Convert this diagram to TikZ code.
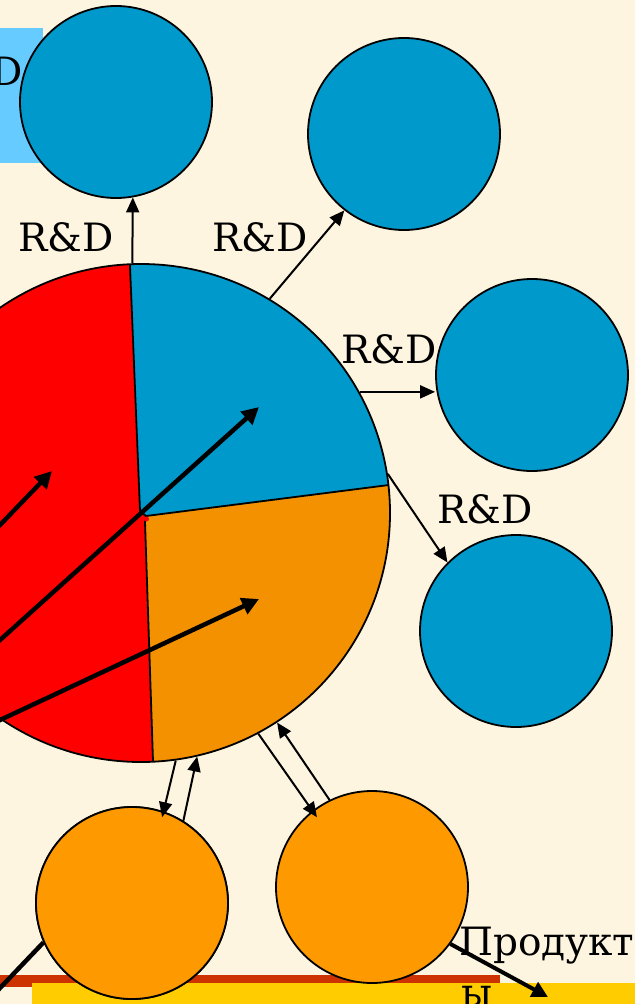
\documentclass[tikz,border=0pt]{standalone}
\usepackage{fontspec}
\setmainfont{DejaVu Serif}
\usetikzlibrary{arrows.meta}
\definecolor{bg}{RGB}{253,245,224}
\definecolor{boxcyan}{RGB}{102,204,255}
\definecolor{ballblue}{RGB}{0,153,204}
\definecolor{ballorange}{RGB}{255,153,0}
\definecolor{pieorange}{RGB}{243,145,0}
\definecolor{piered}{RGB}{255,0,0}
\definecolor{stripered}{RGB}{204,51,0}
\definecolor{stripeyellow}{RGB}{255,204,0}
\begin{document}
\begin{tikzpicture}[x=1pt,y=-1pt,
  ball/.style={circle,draw=black,line width=1.8pt,inner sep=0pt,minimum size=192pt},
  blueball/.style={ball,fill=ballblue},
  orball/.style={ball,fill=ballorange},
  edgeline/.style={draw=black,line width=1.8pt},
  thinarr/.style={line width=2pt,-{Triangle[length=15pt,width=13pt]}},
  thickarr/.style={line width=4.5pt,-{Triangle[length=17pt,width=17pt]}},
  thickline/.style={line width=4.5pt},
  lbl/.style={font=\fontsize{39}{44}\selectfont,inner sep=0pt}]
\useasboundingbox (0,0) rectangle (635,1004);
\fill[bg] (0,0) rectangle (635,1004);
% top-left cyan box
\fill[boxcyan] (0,28) rectangle (43,163);
\node[lbl,anchor=base east] (boxlbl) at (23,85) {R\&D};
% bottom stripes
\fill[stripered] (0,975) rectangle (500,987);
\fill[stripeyellow] (32,983) rectangle (635,1004);
\coordinate (a4s) at (-20,1009);
% blue balls
\node[blueball] (c1) at (116,102) {};
\node[blueball] (c2) at (404,134) {};
\node[blueball] (c3) at (532,375) {};
\node[blueball] (c4) at (516,631) {};
% orange balls
\node[orball] (o1) at (132,903) {};
\node[orball] (o2) at (372,887) {};
\draw[thickline] (a4s) -- (o1.204);
\node[orball] at (o1) {};
% pie
\begin{scope}
  \clip (141,513) circle (249pt);
  \fill[piered] (141,513) circle (249pt);
  \fill[ballblue] (140,511) -- (127.3,200) -- (450,200) -- (450,477.2) -- (146,516) -- cycle;
  \fill[pieorange] (146,516) -- (450,477.2) -- (450,800) -- (154.3,800) -- (145,522) -- cycle;
  \draw[edgeline] (127.3,200) -- (140,511) -- (146,516) -- (450,477.2);
  \draw[edgeline] (146,516) -- (145,522) -- (154.3,800);
  \fill[piered] (146.5,519) circle (2.5pt);
\end{scope}
\node[circle,edgeline,inner sep=0pt,minimum size=498pt] (big) at (141,513) {};
% thick arrows on the pie
\coordinate (a1s) at (-10,535.4);
\coordinate (a1e) at (52,471);
\coordinate (a2s) at (-10,649);
\coordinate (a2e) at (259,407);
\coordinate (a3s) at (-10,724.7);
\coordinate (a3e) at (259,599);
\draw[thickarr] (a1s) -- (a1e);
\draw[thickarr] (a2s) -- (a2e);
\draw[thickarr] (a3s) -- (a3e);
% thin arrows to blue balls
\draw[thinarr] (big.92) -- (c1.-80.6);
\draw[thinarr] (big.59.5) -- (c2.-128);
\draw[thinarr] (big.29.5) -- (big.29.5 -| c3.west);
\draw[thinarr] (big.9.9) -- (c4.135);
% arrows pie <-> orange balls
\draw[thinarr,shorten >=-6pt] (big.-82.9) -- (o1.71.4);
\draw[thinarr] (o1.58.4) -- (big.-77.6);
\draw[thinarr,shorten >=-8pt] (big.-62.3) -- (o2.128.4);
\draw[thinarr] (o2.116.8) -- (big.-57.6);
% product arrow
\coordinate (a5e) at (548,997);
\draw[line width=4pt,-{Triangle[length=16pt,width=16pt]}] (o2.-36.6) -- (a5e);
% labels
\node[lbl] (l1) at (66,237) {R\&D};
\node[lbl] (l2) at (260,237) {R\&D};
\node[lbl] (l3) at (389,349) {R\&D};
\node[lbl] (l4) at (485,509) {R\&D};
\node[lbl,anchor=base west] (prod) at (459,955) {Продукт};
\node[lbl,anchor=base west] (prod2) at (461,1006) {ы};
\end{tikzpicture}
\end{document}
